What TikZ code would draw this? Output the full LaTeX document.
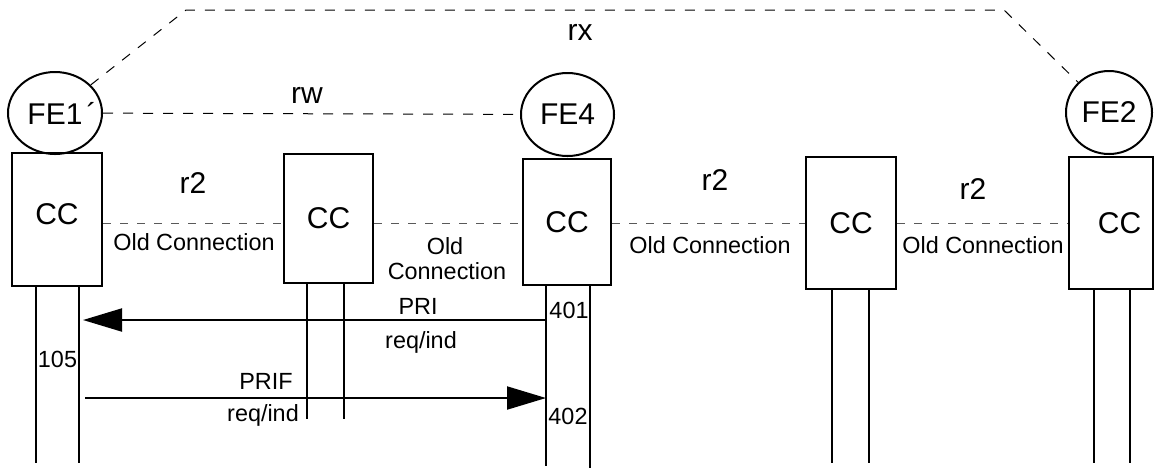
\documentclass[tikz,border=0pt]{standalone}
\usepackage{fontspec}
\setmainfont{Liberation Sans}
\usetikzlibrary{positioning,shapes,arrows.meta,calc}
\newcommand{\bigtxt}{\fontsize{15pt}{18pt}\selectfont}
\newcommand{\smalltxt}{\fontsize{11.7pt}{14pt}\selectfont}
\tikzstyle{fe} = [draw, ellipse, line width=1pt, inner sep=0pt, font=\bigtxt]
\tikzstyle{cc} = [draw, rectangle, line width=1pt, inner sep=0pt, font=\bigtxt]
\tikzstyle{rel} = [dash pattern=on 5pt off 5pt, line width=0.5pt]
\tikzstyle{oldconn} = [dash pattern=on 4pt off 4.5pt, line width=0.5pt, black!65]
\tikzstyle{life} = [line width=1pt]
\tikzstyle{msg} = [line width=1pt, -{Triangle[length=19.5pt,width=11.5pt]}]
\tikzstyle{lbl} = [anchor=base, inner sep=0pt, font=\smalltxt]
\tikzstyle{rlbl} = [anchor=base, inner sep=0pt, font=\bigtxt]

\begin{document}
\begin{tikzpicture}[x=0.5pt, y=-0.5pt]
\useasboundingbox (0,0) rectangle (1154,468);

% functional entities
\node (fe1) [fe, minimum width=47pt, minimum height=41pt] at (55,113) {FE1\rlap{\hspace{2pt}´}};
\node (fe4) [fe, minimum width=46.5pt, minimum height=41.5pt] at (567.5,114.5) {FE4};
\node (fe2) [fe, minimum width=43pt, minimum height=41.5pt] at (1109,112.5) {FE2};

% call control
\node (cc1) [cc, minimum width=45pt, minimum height=66.5pt] at (57,219.5) {\raisebox{5.75pt}{CC}};
\node (cc2) [cc, minimum width=44.5pt, minimum height=64.5pt] at (328.5,218.5) {CC};
\node (cc3) [cc, minimum width=44pt, minimum height=63pt] at (567,222) {CC};
\node (cc4) [cc, minimum width=45pt, minimum height=66pt] at (851,223) {CC};
\node (cc5) [cc, minimum width=42pt, minimum height=66pt] at (1111,223) {\hspace*{8.5pt}CC};

% relationships
\coordinate (rxl) at (186,10);
\coordinate (rxr) at (1004,10);
\draw[rel] (fe1) -- (rxl) -- (rxr) -- (fe2);
\draw[rel] (fe1) -- (fe4);
\node (rx) [rlbl] at (580,40) {rx};
\node (rw) [rlbl] at (307,103) {rw};

\draw[oldconn] (cc1.east |- cc4.east) -- (cc2.west |- cc4.east);
\draw[oldconn] (cc2.east |- cc4.east) -- (cc3.west |- cc4.east);
\draw[oldconn] (cc3.east |- cc4.east) -- (cc4.west);
\draw[oldconn] (cc4.east) -- (cc5.west);
\node (r2a) [rlbl] at (193,193) {r2};
\node (r2b) [rlbl] at (715,190) {r2};
\node (r2c) [rlbl] at (973,199) {r2};
\node (oc1) [lbl] at (194,250) {Old Connection};
\node (oc2) [lbl] at (445,254) {Old};
\node (oc2b) [lbl] at (447,279) {Connection};
\node (oc3) [lbl] at (710,253) {Old Connection};
\node (oc4) [lbl] at (983,253) {Old Connection};

% lifelines
\coordinate (l1a) at ($(cc1.south)+(-21,0)$);
\coordinate (l1b) at ($(cc1.south)+(22,0)$);
\coordinate (l2a) at ($(cc2.south)+(-21.5,0)$);
\coordinate (l2b) at ($(cc2.south)+(15.5,0)$);
\coordinate (l3a) at ($(cc3.south)+(-21,0)$);
\coordinate (l3b) at ($(cc3.south)+(23,-2)$);
\coordinate (l4a) at ($(cc4.south)+(-19,0)$);
\coordinate (l4b) at ($(cc4.south)+(18,0)$);
\coordinate (l5a) at ($(cc5.south)+(-17,0)$);
\coordinate (l5b) at ($(cc5.south)+(19,0)$);
\foreach \l/\len in {l1a/176, l1b/176, l2a/135, l2b/135, l3a/180, l3b/184,
                     l4a/173, l4b/173, l5a/173, l5b/173}
  \draw[life] (\l) -- ++(0,\len);

% messages
\coordinate (prisrc) at ($(l3a)+(0,34)$);
\coordinate (prifsrc) at ($(l1b)+(6,111)$);
\draw[msg, shorten >=2pt] (prisrc) -- (prisrc -| l1b);
\draw[msg] (prifsrc) -- (prifsrc -| l3a);
\node (prilbl) [lbl] at (418,314) {PRI};
\node (prireq) [lbl] at (421,348) {req/ind};
\node (priflbl) [lbl] at (266,389) {PRIF};
\node (prifreq) [lbl] at (263,421) {req/ind};
\node (n105) [lbl] at (57.5,367) {105};
\node (n401) [lbl] at (569,318) {401};
\node (n402) [lbl] at (568,424) {402};
\end{tikzpicture}
\end{document}
